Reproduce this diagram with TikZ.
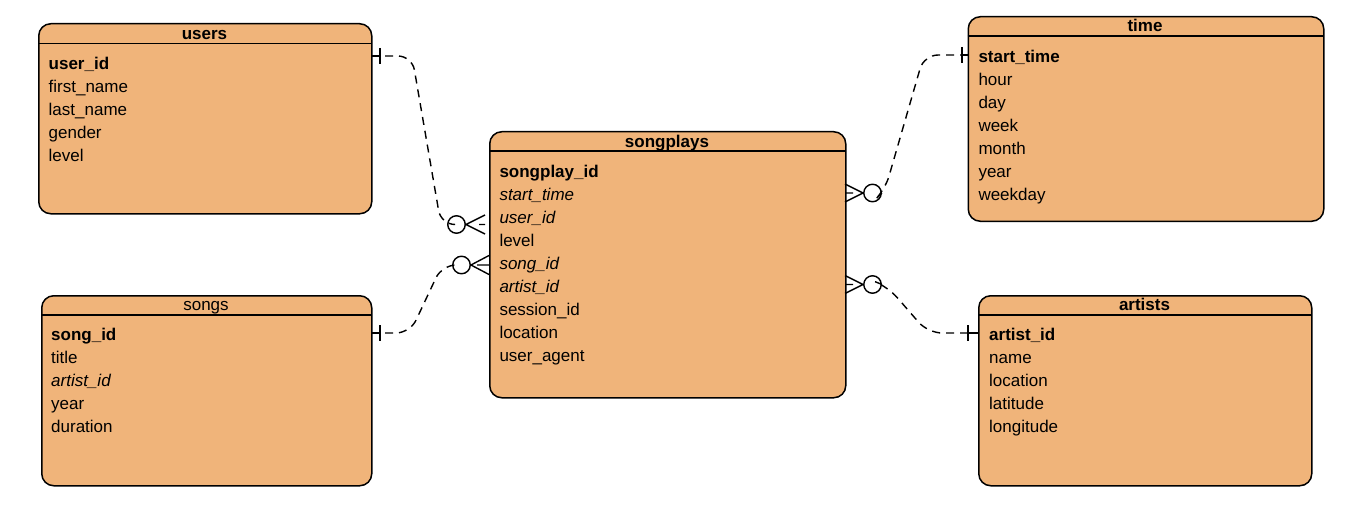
\documentclass[tikz,border=0pt]{standalone}
\usepackage{fontspec}
\setmainfont{Liberation Sans}
\definecolor{tblfill}{HTML}{F0B47A}
\begin{document}
\begin{tikzpicture}[x=1pt,y=-1pt,
  tbl/.style={draw=black, fill=tblfill, line width=1.5pt, rounded corners=12pt, anchor=north west, inner sep=0pt},
  hdr/.style={draw=black, line width=1.3pt},
  ttl/.style={anchor=base, inner sep=0pt, yshift=-0.8pt, font=\fontsize{17}{20}\selectfont},
  row/.style={anchor=base west, inner sep=0pt, yshift=-1pt, font=\fontsize{17}{20}\selectfont},
  conn/.style={draw=black, line width=1.4pt, dash pattern=on 8pt off 6pt, rounded corners=14pt},
  zero/.style={circle, draw=black, fill=white, line width=1.4pt, minimum size=17.5pt, inner sep=0pt},
  foot/.style={draw=black, line width=1.4pt},
  bar/.style={draw=black, line width=1.4pt}
]
\useasboundingbox (0,0) rectangle (1362,516);

% ---------- users ----------
\node[tbl, minimum width=333pt, minimum height=190pt] (users) at (38,23) {};
\draw[hdr] (38,43.3) -- (371,43.3);
\node[ttl] (usersT) at (204.5,38.5) {\bfseries users};
\node[row] (u1) at (48.5,68.5) {\bfseries user\_id};
\node[row] (u2) at (48.5,91.5) {first\_name};
\node[row] (u3) at (48.5,114.5) {last\_name};
\node[row] (u4) at (48.5,137.5) {gender};
\node[row] (u5) at (48.5,160.5) {level};

% ---------- songs ----------
\node[tbl, minimum width=330pt, minimum height=190pt] (songs) at (41,295) {};
\draw[hdr] (41,315) -- (371,315);
\node[ttl] (songsT) at (206,310) {songs};
\node[row] (s1) at (51,339) {\bfseries song\_id};
\node[row] (s2) at (51,362) {title};
\node[row] (s3) at (51,385) {\itshape artist\_id};
\node[row] (s4) at (51,408.5) {year};
\node[row] (s5) at (51,431.5) {duration};

% ---------- songplays ----------
\node[tbl, minimum width=356pt, minimum height=266pt] (sp) at (489,131) {};
\draw[hdr] (489,151) -- (845,151);
\node[ttl] (spT) at (667,146.5) {\bfseries songplays};
\node[row] (p1r) at (499.3,176.5) {\bfseries songplay\_id};
\node[row] (p2r) at (499.3,199.5) {\itshape start\_time};
\node[row] (p3r) at (499.3,222.5) {\itshape user\_id};
\node[row] (p4r) at (499.3,245.5) {level};
\node[row] (p5r) at (499.3,268.5) {\itshape song\_id};
\node[row] (p6r) at (499.3,291.5) {\itshape artist\_id};
\node[row] (p7r) at (499.3,314.5) {session\_id};
\node[row] (p8r) at (499.3,337.5) {location};
\node[row] (p9r) at (499.3,360.5) {user\_agent};

% ---------- time ----------
\node[tbl, minimum width=355.5pt, minimum height=204.5pt] (time) at (967.5,16) {};
\draw[hdr] (967.5,36) -- (1323,36);
\node[ttl] (timeT) at (1145,31) {\bfseries time};
\node[row] (t1) at (978.3,61.5) {\bfseries start\_time};
\node[row] (t2) at (978.3,84.5) {hour};
\node[row] (t3) at (978.3,107.5) {day};
\node[row] (t4) at (978.3,130.5) {week};
\node[row] (t5) at (978.3,153.5) {month};
\node[row] (t6) at (978.3,176.5) {year};
\node[row] (t7) at (978.3,199.5) {weekday};

% ---------- artists ----------
\node[tbl, minimum width=333pt, minimum height=190pt] (artists) at (978,295) {};
\draw[hdr] (978,315) -- (1311,315);
\node[ttl] (artistsT) at (1144.5,309.5) {\bfseries artists};
\node[row] (a1) at (989,339) {\bfseries artist\_id};
\node[row] (a2) at (989,362) {name};
\node[row] (a3) at (989,385) {location};
\node[row] (a4) at (989,408) {latitude};
\node[row] (a5) at (989,431) {longitude};

% ---------- connector end points ----------
\coordinate (e1) at (371,56);
\coordinate (e2) at (371,333);
\coordinate (e3) at (968,55);
\coordinate (e4) at (978,333);

% zero-or-many circles
\node[zero] (c1) at (456.5,224.5) {};
\node[zero] (c2) at (461.5,265) {};
\node[zero] (c3) at (872.5,193) {};
\node[zero] (c4) at (872.5,284.5) {};

% ---------- connectors ----------
\draw[conn] (e1) -- (412,56) -- (441,224.5) -- (c1.west);
\draw[conn] (e2) -- (410,333) -- (442,265) -- (c2.west);
\draw[conn] (e3) -- (924,55) -- (885,190) -- (c3.east);
\draw[conn] (c4.east) -- (888,287) -- (928,333) -- (e4);

% one bars
\draw[bar] (380,48) -- (380,64);
\draw[bar] (380,325) -- (380,341);
\draw[bar] (962,47) -- (962,63);
\draw[bar] (968,325) -- (968,341);
\draw[bar] (e1) -- (380,56);
\draw[bar] (e2) -- (380,333);
\draw[bar] (e3) -- (962,55);
\draw[bar] (e4) -- (968,333);

% crow's feet
\draw[foot] (c1.east) -- (485,215) (c1.east) -- (485,234) (479,224.5) -- (485,224.5);
\draw[foot] (c2.east) -- (489,255.5) (c2.east) -- (489,274.5) (477,265) -- (489,265);
\draw[foot] (c3.west) -- (845,184) (c3.west) -- (845,202) (853,193) -- (845,193);
\draw[foot] (c4.west) -- (845,275.5) (c4.west) -- (845,293.5) (853,284.5) -- (845,284.5);
\end{tikzpicture}
\end{document}
